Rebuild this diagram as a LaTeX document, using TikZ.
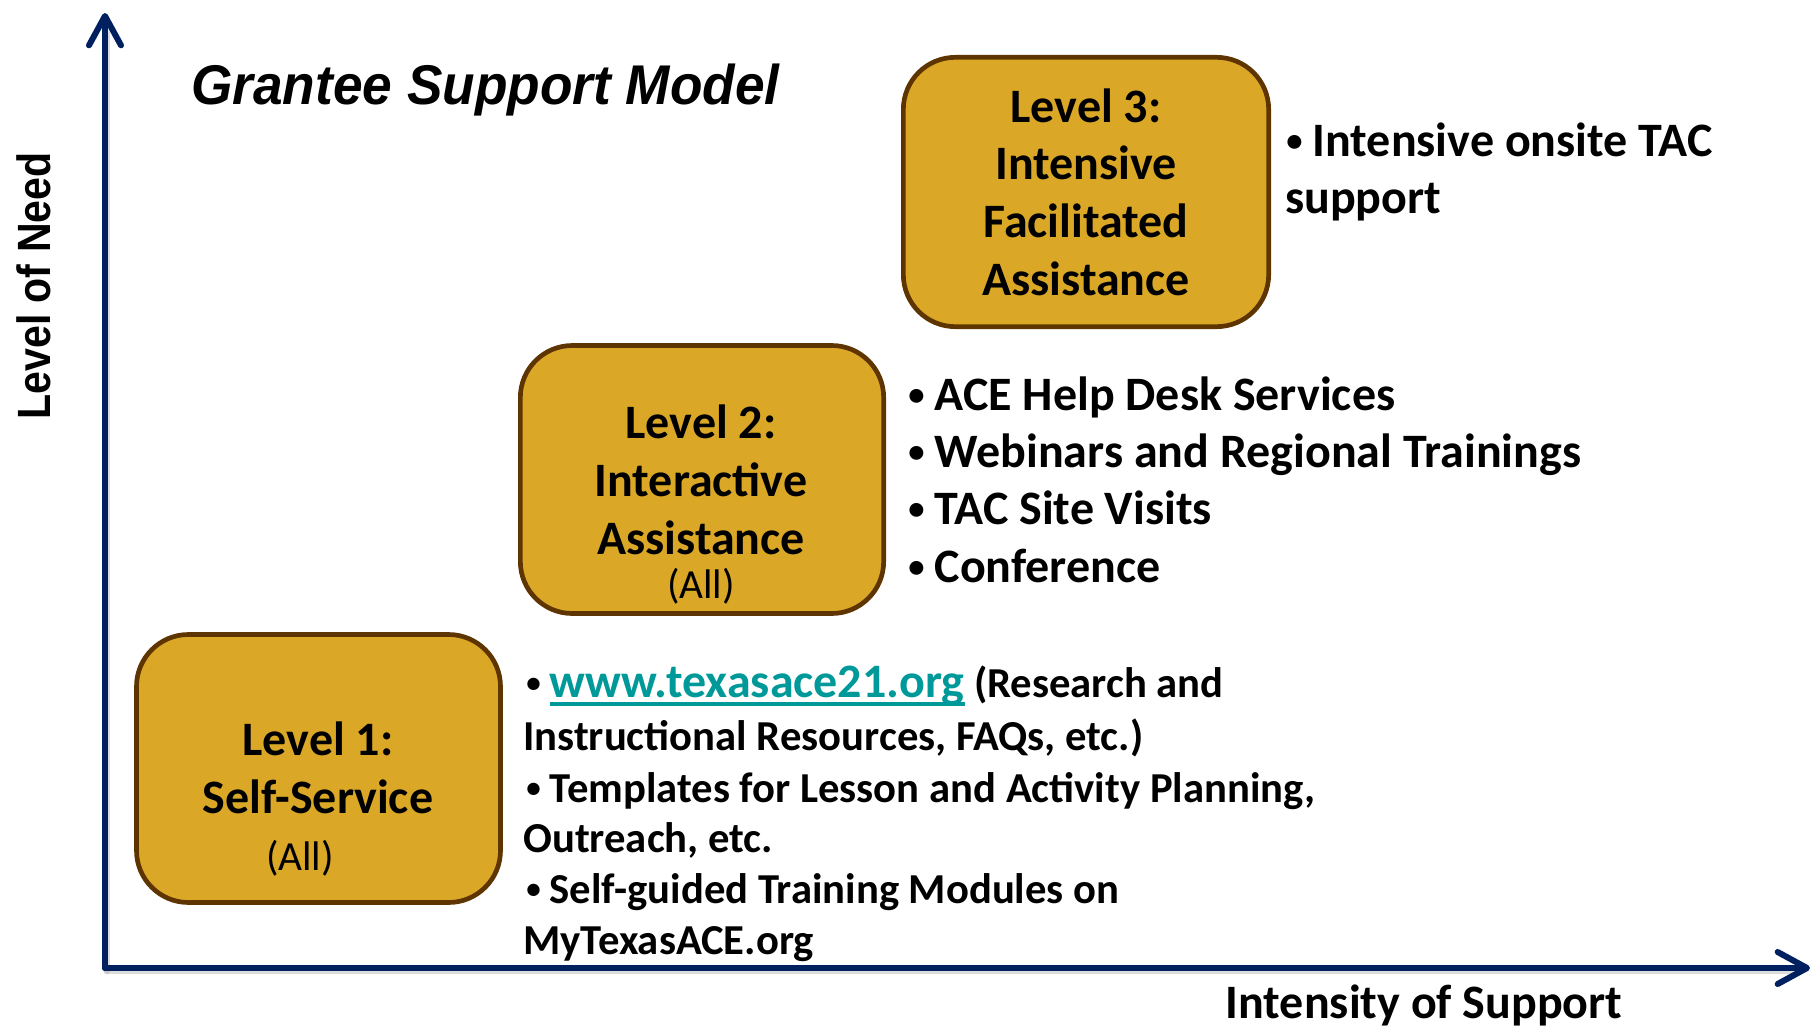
\documentclass[tikz,border=0pt]{standalone}
\usepackage{fontspec}
\setmainfont{Carlito}
\newfontfamily\titlefont{Liberation Sans}
\usetikzlibrary{arrows.meta}
\definecolor{axisblue}{RGB}{0,32,96}
\definecolor{boxfill}{RGB}{218,168,38}
\definecolor{boxline}{RGB}{94,52,0}
\definecolor{linkteal}{RGB}{0,153,153}
\newcommand{\bul}{\makebox[0.55em][l]{\raisebox{0.10em}{\scalebox{0.68}{•}}}}
\newcommand{\ulink}[1]{\setbox0\hbox{#1}\rlap{\rule[-0.19em]{\wd0}{0.085em}}\box0}
\begin{document}
\begin{tikzpicture}[x=0.75pt,y=-0.75pt,
  box/.style={draw=boxline, fill=boxfill, line width=3.5pt, rounded corners=39pt, inner sep=0pt},
  boxtxt/.style={anchor=base, inner sep=0pt, font=\bfseries\fontsize{36}{42}\selectfont},
  alltxt/.style={anchor=base, inner sep=0pt, font=\fontsize{31}{37}\selectfont},
  bigtxt/.style={anchor=base west, inner sep=0pt, font=\bfseries\fontsize{36}{42}\selectfont},
  smalltxt/.style={anchor=base west, inner sep=0pt, font=\bfseries\fontsize{32}{38}\selectfont},
  axisline/.style={draw=axisblue, line width=4.5pt, line cap=round, -{Straight Barb[length=22pt,width=24pt,round]}},
  axisshadow/.style={draw=black!30, line width=4.5pt, line cap=round, opacity=0.45}
]
\useasboundingbox (0,0) rectangle (1812,1031);
\fill[white] (0,0) rectangle (1812,1031);

% axes
\coordinate (o) at (105,968);
\coordinate (yt) at (105,13);
\coordinate (xt) at (1810,968);
\begin{scope}[transform canvas={shift={(1.5pt,-2.5pt)}}]
\draw[axisshadow] (o) -- (1794,968);
\draw[axisshadow] (o) -- (105,30);
\end{scope}
\draw[axisline] (o) -- (yt);
\draw[axisline] (o) -- (xt);

% title and axis labels
\node[anchor=base west, inner sep=0pt, font=\titlefont\bfseries\itshape\fontsize{42}{50}\selectfont] (title) at (191,104) {\scalebox{0.95}[1]{Grantee Support Model}};
\node[rotate=90, anchor=base, inner sep=0pt, font=\titlefont\bfseries\fontsize{35}{42}\selectfont] (need) at (50,286) {\scalebox{0.88}[1]{Level of Need}};
\node[anchor=base, inner sep=0pt, font=\bfseries\fontsize{36}{42}\selectfont] (intens) at (1424,1018) {Intensity of Support};

% boxes
\node[box, minimum width=274pt, minimum height=202pt] (b3) at (1086,192) {};
\node[box, minimum width=272.5pt, minimum height=201pt] (b2) at (702,479.5) {};
\node[box, minimum width=273pt, minimum height=201pt] (b1) at (318.5,768.5) {};

% box 3 text
\node[boxtxt] (b3a) at (1086,122) {Level 3:};
\node[boxtxt] (b3b) at (1086,179) {Intensive};
\node[boxtxt] (b3c) at (1086,237) {Facilitated};
\node[boxtxt] (b3d) at (1086,295) {Assistance};

% box 2 text
\node[boxtxt] (b2a) at (701,438) {Level 2:};
\node[boxtxt] (b2b) at (701,496) {Interactive};
\node[boxtxt] (b2c) at (701,554) {Assistance};
\node[alltxt] (b2d) at (701,598) {(All)};

% box 1 text
\node[boxtxt] (b1a) at (318,755) {Level 1:};
\node[boxtxt] (b1b) at (318,813) {Self-Service};
\node[alltxt] (b1c) at (300,870) {(All)};

% level 3 items
\node[bigtxt] (r3a) at (1286,156) {\bul Intensive onsite TAC};
\node[bigtxt] (r3b) at (1285,213) {support};

% level 2 items
\node[bigtxt] (r2a) at (908,410) {\bul ACE Help Desk Services};
\node[bigtxt] (r2b) at (908,467) {\bul Webinars and Regional Trainings};
\node[bigtxt] (r2c) at (908,524) {\bul TAC Site Visits};
\node[bigtxt] (r2d) at (908,582) {\bul Conference};

% level 1 items
\node[smalltxt] (r1a) at (526,697) {\bul{\fontsize{36}{42}\selectfont\color{linkteal}\ulink{www.texasace21.org}} (Research and};
\node[smalltxt] (r1b) at (523,750) {Instructional Resources, FAQs, etc.)};
\node[smalltxt] (r1c) at (526,802) {\bul Templates for Lesson and Activity Planning,};
\node[smalltxt] (r1d) at (523,852) {Outreach, etc.};
\node[smalltxt] (r1e) at (526,903) {\bul Self-guided Training Modules on};
\node[smalltxt] (r1f) at (523,954) {MyTexasACE.org};
\end{tikzpicture}
\end{document}
